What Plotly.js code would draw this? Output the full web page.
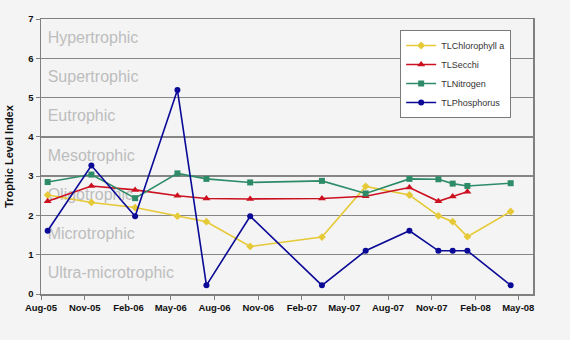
<!DOCTYPE html>
<html>
<head>
<meta charset="utf-8">
<script src="https://cdn.plot.ly/plotly-3.0.1.min.js"></script>
<style>html,body{margin:0;padding:0;background:#f4f4f4;}#chart{width:570px;height:340px;}</style>
</head>
<body>
<div id="chart"></div>
<script>
const dates = ["2005-08-15","2005-11-15","2006-02-15","2006-05-15","2006-07-15","2006-10-15","2007-03-15","2007-06-15","2007-09-15","2007-11-15","2007-12-15","2008-01-15","2008-04-15"];
const chlorophyll = [2.52,2.33,2.20,1.98,1.84,1.21,1.45,2.74,2.52,1.99,1.84,1.46,2.10];
const secchi = [2.36,2.75,2.65,2.50,2.43,2.42,2.43,2.49,2.71,2.36,2.48,2.60,null];
const nitrogen = [2.85,3.04,2.44,3.07,2.93,2.84,2.88,2.56,2.93,2.92,2.81,2.75,2.82];
const phosphorus = [1.61,3.27,1.98,5.19,0.22,1.98,0.22,1.10,1.61,1.10,1.10,1.10,0.22];
const bandLabels = ["Hypertrophic","Supertrophic","Eutrophic","Mesotrophic","Oligotrophic","Microtrophic","Ultra-microtrophic"];
const bandCentres = [6.5,5.5,4.5,3.5,2.5,1.5,0.5];
const bandX = "2005-08-15";

const font = "Liberation Sans, Arial, sans-serif";
function series(name, y, color, symbol, size) {
  return {type:"scatter", mode:"lines+markers", name:name, x:dates, y:y,
    line:{color:color, width:1.6}, marker:{color:color, symbol:symbol, size:size},
    connectgaps:false, cliponaxis:false};
}
const traces = [
  {type:"scatter", mode:"text", x:bandLabels.map(()=>bandX), y:bandCentres, text:bandLabels,
   textposition:"middle right", textfont:{family:font, size:16, color:"#bdbdbd"},
   showlegend:false, hoverinfo:"skip"},
  series("TLChlorophyll a", chlorophyll, "#e6c936", "diamond", 6),
  series("TLSecchi", secchi, "#cc1020", "triangle-up", 7),
  series("TLNitrogen", nitrogen, "#2e8b68", "square", 6),
  series("TLPhosphorus", phosphorus, "#0a0a96", "circle", 6)
];
const layout = {
  width:570, height:340,
  margin:{l:41, r:37, t:19, b:46},
  paper_bgcolor:"#f4f4f4", plot_bgcolor:"#f4f4f4",
  showlegend:true,
  legend:{x:0.73, y:0.96, xanchor:"left", yanchor:"top", bgcolor:"#ffffff",
    bordercolor:"#7a7a7a", borderwidth:1, font:{family:font, size:9, color:"#333333"},
    tracegroupgap:0},
  xaxis:{type:"date", range:["2005-08-01","2008-06-01"], dtick:"M3", tick0:"2005-08-01",
    tickformat:"%b-%y", ticks:"outside", ticklen:4, tickcolor:"#808080",
    showgrid:false, zeroline:false, showline:true, mirror:true, linecolor:"#808080", linewidth:1.5,
    tickfont:{family:font, size:9.5, color:"#111111", weight:"bold"}},
  yaxis:{range:[0,7], dtick:1, ticks:"outside", ticklen:4, tickcolor:"#808080",
    showgrid:true, gridcolor:"#868686", gridwidth:1.5, zeroline:false,
    showline:true, mirror:true, linecolor:"#808080", linewidth:1.5,
    tickfont:{family:font, size:9.5, color:"#111111", weight:"bold"},
    title:{text:"Trophic Level Index", standoff:12, font:{family:font, size:11, color:"#111111", weight:"bold"}}}
};
Plotly.newPlot("chart", traces, layout, {displayModeBar:false, staticPlot:true});
</script>
</body>
</html>
